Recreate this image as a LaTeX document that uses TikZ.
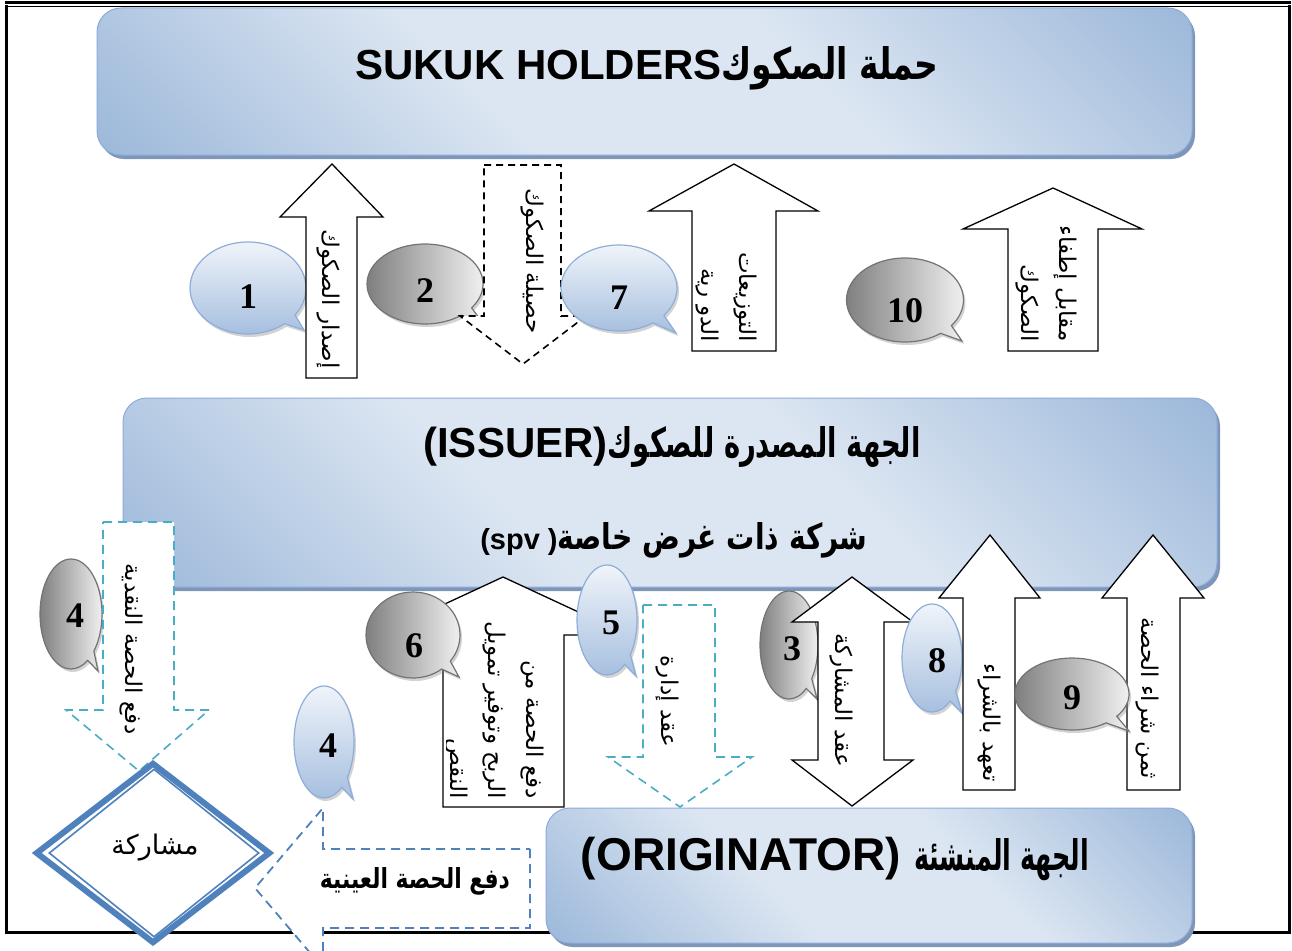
\documentclass[tikz,border=0pt]{standalone}
\usepackage{fontspec}
\usepackage{graphicx}
\setmainfont{Liberation Sans}
\newfontfamily\arb[Script=Arabic]{DejaVu Sans}
\newfontfamily\numf{Liberation Serif}
\TeXXeTstate=1
\usetikzlibrary{shapes.geometric,shapes.callouts,shadows}
\definecolor{bxlight}{HTML}{DCE6F2}
\definecolor{bxblue}{HTML}{95B3D7}
\definecolor{bxedge}{HTML}{8FAADC}
\definecolor{bxshadow}{HTML}{7E97B8}
\definecolor{tealc}{HTML}{4BACC6}
\definecolor{dblue}{HTML}{4F81BD}
\definecolor{bublight}{HTML}{F0F4FA}
\definecolor{bubblue}{HTML}{A6BFDF}
\definecolor{bubedge}{HTML}{8EAED8}
\pgfdeclarehorizontalshading{boxshade}{100bp}{color(0bp)=(bxblue); color(12bp)=(bxblue); color(40bp)=(bxlight); color(60bp)=(bxlight); color(88bp)=(bxblue); color(100bp)=(bxblue)}
\newcommand\arbt[3]{{\arb\bfseries\resizebox{#1pt}{#2pt}{#3}}}
\newcommand\nb[2]{\hspace*{#1pt}#2}
\newcommand\vtf{\arb\fontsize{23}{38}\selectfont}
\tikzset{
  bigbox/.style={draw=bxedge, line width=1pt, rounded corners=24pt, shading=boxshade, shading angle=45,
    drop shadow={shadow xshift=3pt, shadow yshift=-4pt, fill=bxshadow, opacity=1}},
  ttl/.style={font=\fontsize{42}{48}\selectfont\bfseries, inner sep=0pt},
  bub/.style={ellipse callout, line width=1.2pt, inner sep=0pt,
    font=\numf\bfseries\fontsize{36}{36}\selectfont,
    drop shadow={shadow xshift=2pt, shadow yshift=-3pt, opacity=.35}},
  bubB/.style={bub, draw=bubedge, top color=bublight, bottom color=bubblue},
  bubG/.style={bub, draw=black!55, left color=black!50, right color=black!6},
  lower/.style={text height=#1, text depth=0pt},
  blkarrow/.style={draw=black, line width=1.3pt, fill=white, line join=miter},
  dasharrow/.style={draw=black, line width=1.6pt, dash pattern=on 7pt off 5pt, fill=white},
  tealarrow/.style={draw=tealc, line width=1.6pt, dash pattern=on 9pt off 6pt, fill=white},
  bluearrow/.style={draw=dblue, line width=1.8pt, dash pattern=on 9pt off 6pt, fill=white},
  vtext/.style={font=\vtf, inner sep=0pt, rotate=-90, anchor=east, align=right},
}
\begin{document}
\begin{tikzpicture}[x=1pt,y=-1pt]
\useasboundingbox (0,0) rectangle (1292,950);
% frame
\draw[line width=2.5pt] (5,2.5) -- (1291,2.5);
\draw[line width=1.3pt] (5,6.5) -- (1291,6.5);
\draw[line width=3pt] (6.5,5) -- (6.5,932) -- (1289,932) -- (1289,5);

% main boxes
\node[bigbox, minimum width=1095pt, minimum height=147pt] (holders) at (644.5,81.5) {};
\node[bigbox, minimum width=1094pt, minimum height=189pt] (issuer) at (670,492.5) {};
\node[bigbox, minimum width=646pt, minimum height=135pt] (orig) at (869,875.5) {};
\node[ttl] (holdtxt) at (647,68) {SUKUK HOLDERS\arbt{217}{33}{\beginR حملة الصكوك\endR}};
\node[ttl] (isstxt) at (672,447) {(ISSUER)\arbt{313}{31}{\beginR الجهة المصدرة للصكوك\endR}};
\node[font=\fontsize{29}{32}\selectfont\bfseries, inner sep=0pt] (spvtxt) at (674,540) {(spv )\arbt{310}{27}{\beginR شركة ذات غرض خاصة\endR}};
\node[font=\fontsize{46}{50}\selectfont\bfseries, inner sep=0pt] (origtxt) at (835,859) {(ORIGINATOR) \arbt{175}{32}{\beginR الجهة المنشئة\endR}};

% top row
\node[bubB, lower=40pt, minimum width=116pt, minimum height=92pt, callout absolute pointer={(304,330)}] (b1) at (248,288) {1};
\draw[blkarrow] (306,378) -- (306,217) -- (280,217) -- (332,164) -- (383,217) -- (357,217) -- (357,378) -- cycle;
\node[vtext] (t1) at (328,369) {\beginR إصدار الصكوك\endR};
\node[bubG, lower=36pt, minimum width=116pt, minimum height=80pt, callout absolute pointer={(482,322)}] (b2) at (425,284) {2};
\draw[dasharrow] (484,165) -- (561,165) -- (561,316) -- (586,316) -- (523,364) -- (460,316) -- (484,316) -- cycle;
\node[vtext] (t2) at (532,334) {\beginR حصيلة الصكوك\endR};
\node[bubB, lower=42pt, minimum width=116pt, minimum height=86pt, callout absolute pointer={(676,333)}] (b7) at (619,288) {7};
\draw[blkarrow] (692,351) -- (692,211) -- (649,211) -- (734,164) -- (818,211) -- (776,211) -- (776,351) -- cycle;
\node[vtext] (t7) at (726,342) {\beginR التوزيعات\endR\\\beginR الدو رية\endR};
\node[bubG, lower=44pt, minimum width=117pt, minimum height=84pt, callout absolute pointer={(962,341)}] (b10) at (905,300) {10};
\draw[blkarrow] (1008,351) -- (1008,229) -- (963,229) -- (1053,188) -- (1142,229) -- (1098,229) -- (1098,351) -- cycle;
\node[vtext] (t10) at (1046,342) {\beginR مقابل إطفاء\endR\\\beginR الصكوك\endR};

% left side
\node[bubG, lower=26pt, minimum width=62pt, minimum height=110pt, callout absolute pointer={(98,671)}] (b4a) at (71,614) {\nb{8}{4}};
\draw[tealarrow] (103,522) -- (174,522) -- (174,710) -- (209,710) -- (139,771) -- (66,710) -- (103,710) -- cycle;
\node[vtext] (t4a) at (131,735) {\beginR دفع الحصة النقدية\endR};
\draw[bluearrow] (530,849) -- (530,928) -- (323,928) -- (323,968) -- (255,888) -- (323,808) -- (323,849) -- cycle;
\node[inner sep=0pt] (t4b) at (415,881) {\arbt{190}{21}{\beginR دفع الحصة العينية\endR}};
\node[diamond, draw=dblue, line width=6pt, fill=white, minimum width=235pt, minimum height=181pt, inner sep=0pt] (dia) at (153,853) {};
\node[diamond, draw=dblue, line width=1.6pt, minimum width=210pt, minimum height=168pt, inner sep=0pt] (diain) at (154,853) {};
\node[font=\arb\fontsize{27}{30}\selectfont, inner sep=0pt] (diatxt) at (155,848) {\beginR مشاركة\endR};
\node[bubB, lower=30pt, minimum width=60pt, minimum height=112pt, callout absolute pointer={(353,799)}] (b4b) at (324,742) {\nb{8}{4}};

% middle-bottom
\draw[blkarrow] (443,807) -- (443,635) -- (378,635) -- (503,577) -- (628,635) -- (564,635) -- (564,807) -- cycle;
\begin{scope}
\clip (446,580) rectangle (562,805);
\node[vtext] (t6) at (494,799) {\beginR دفع الحصة من\endR\\\beginR الربح وتوفير تمويل\endR\\\beginR النقص\endR};
\end{scope}
\node[bubG, lower=44pt, minimum width=94pt, minimum height=86pt, callout absolute pointer={(459,677)}] (b6) at (413,635) {\nb{2}{6}};
\node[bubB, lower=28pt, minimum width=60pt, minimum height=110pt, callout absolute pointer={(636,676)}] (b5) at (607,620) {\nb{8}{5}};
\draw[tealarrow] (643,605) -- (715,605) -- (715,757) -- (752,757) -- (680,807) -- (608,757) -- (643,757) -- cycle;
\node[vtext] (t5) at (667,747) {\beginR عقد إدارة\endR};

% right-bottom
\node[bubG, lower=30pt, minimum width=58pt, minimum height=108pt, callout absolute pointer={(817,699)}] (b3) at (789,645) {\nb{6}{3}};
\draw[blkarrow] (818,622) -- (792,622) -- (852,577) -- (913,622) -- (884,622) -- (884,760) -- (913,760) -- (852,806) -- (792,760) -- (818,760) -- cycle;
\node[vtext] (t3) at (841,767) {\beginR عقد المشاركة\endR};
\node[bubB, lower=28pt, minimum width=60pt, minimum height=108pt, callout absolute pointer={(962,713)}] (b8) at (932,658) {\nb{10}{8}};
\draw[blkarrow] (963,790) -- (963,598) -- (939,598) -- (990,535) -- (1040,598) -- (1015,598) -- (1015,790) -- cycle;
\node[vtext] (t8) at (989,782) {\beginR تعهد بالشراء\endR};
\draw[blkarrow] (1127,790) -- (1127,598) -- (1102,598) -- (1153,535) -- (1204,598) -- (1180,598) -- (1180,790) -- cycle;
\node[vtext] (t9) at (1147,779) {\beginR ثمن شراء الحصة\endR};
\node[bubG, lower=30pt, minimum width=114pt, minimum height=72pt, callout absolute pointer={(1129,731)}] (b9) at (1072,694) {9};
\end{tikzpicture}
\end{document}
